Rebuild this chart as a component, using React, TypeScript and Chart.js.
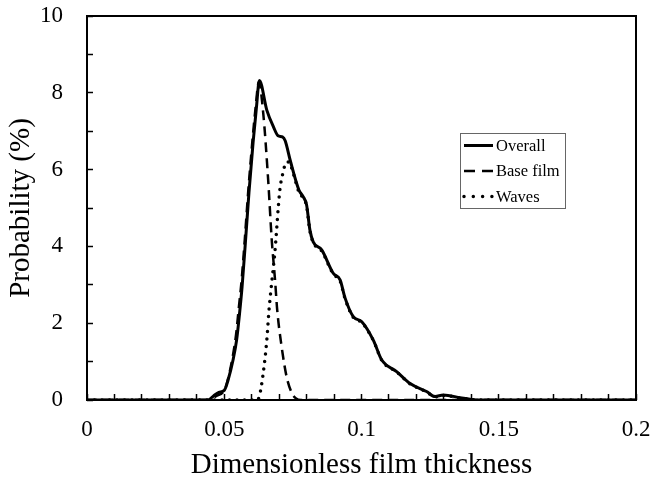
import React, { useEffect, useRef } from 'react';
import { Chart, registerables } from 'chart.js';

Chart.register(...registerables);

// ---- data ----
const seriesNames = ['Overall', 'Base film', 'Waves'];

const overallX = [0, 0.044, 0.046, 0.048, 0.05, 0.0514, 0.0532, 0.0545, 0.0555, 0.0565, 0.0577, 0.059, 0.0605, 0.0617, 0.0628, 0.0655, 0.068, 0.0696, 0.0712, 0.0722, 0.074, 0.0772, 0.0788, 0.08, 0.0812, 0.0824, 0.0855, 0.0897, 0.0922, 0.094, 0.097, 0.1001, 0.1043, 0.1074, 0.1128, 0.1177, 0.1237, 0.1268, 0.1298, 0.136, 0.1395, 0.142, 0.2];
const overallY = [0, 0, 0.1, 0.2, 0.25, 0.52, 1.04, 1.56, 2.2, 2.95, 4.1, 5.4, 6.7, 7.6, 8.32, 7.55, 7.1, 6.88, 6.85, 6.75, 6.25, 5.47, 5.29, 5.08, 4.43, 4.12, 3.91, 3.3, 3.13, 2.66, 2.17, 2.04, 1.56, 1.04, 0.74, 0.43, 0.22, 0.09, 0.13, 0.06, 0.02, 0, 0];

const baseX = [0, 0.044, 0.047, 0.05, 0.0512, 0.053, 0.0543, 0.0553, 0.0563, 0.0575, 0.0587, 0.0602, 0.0614, 0.0626, 0.0642, 0.066, 0.0673, 0.0685, 0.0693, 0.0709, 0.0727, 0.0745, 0.076, 0.078, 0.2];
const baseY = [0, 0, 0.1, 0.25, 0.5, 1.1, 1.7, 2.4, 3.1, 4.2, 5.4, 6.7, 7.6, 8.28, 7.47, 5.73, 4.17, 3.13, 2.34, 1.39, 0.61, 0.2, 0.05, 0, 0];

const wavesX = [0, 0.062, 0.0628, 0.0642, 0.0655, 0.0663, 0.067, 0.0685, 0.0697, 0.0703, 0.0715, 0.0725, 0.0735, 0.0745, 0.0772, 0.0788, 0.08, 0.0812, 0.0824, 0.0855, 0.0897, 0.0922, 0.094, 0.097, 0.1001, 0.1043, 0.1074, 0.1128, 0.1177, 0.1237, 0.1268, 0.1298, 0.136, 0.1395, 0.142, 0.2];
const wavesY = [0, 0, 0.1, 0.7, 1.56, 2.34, 2.86, 3.9, 5.03, 5.5, 5.95, 6.18, 6.2, 6.05, 5.42, 5.25, 5.05, 4.4, 4.1, 3.88, 3.28, 3.1, 2.64, 2.15, 2.02, 1.55, 1.03, 0.73, 0.42, 0.21, 0.08, 0.12, 0.05, 0.02, 0, 0];

const xLabeledTicks = [0, 0.05, 0.1, 0.15, 0.2];
const yLabeledTicks = [0, 2, 4, 6, 8, 10];

const legendDashes = [[], [11, 7], [0, 9.3]];

const FONT = '"Liberation Serif", "Times New Roman", serif';

function pts(xs: number[], ys: number[]) {
  return xs.map((x, i) => ({ x, y: ys[i] }));
}

const framePlugin = {
  id: 'frame',
  afterDatasetsDraw(chart: any) {
    const { ctx, chartArea: a } = chart;
    ctx.save();
    ctx.strokeStyle = '#000';
    ctx.lineWidth = 2;
    ctx.setLineDash([]);
    ctx.strokeRect(a.left, a.top, a.right - a.left, a.bottom - a.top);
    ctx.restore();
  },
};

const legendPlugin = {
  id: 'boxLegend',
  afterDraw(chart: any) {
    const { ctx, chartArea: a } = chart;
    const left = Math.round(a.left + 0.679 * (a.right - a.left));
    const top = Math.round(a.top + 0.305 * (a.bottom - a.top));
    const w = 105;
    const h = 75;
    ctx.save();
    ctx.fillStyle = '#fff';
    ctx.fillRect(left, top, w, h);
    ctx.strokeStyle = '#666';
    ctx.lineWidth = 1;
    ctx.strokeRect(left + 0.5, top + 0.5, w, h);
    chart.data.datasets.forEach((ds: any, i: number) => {
      const y = top + 12.5 + i * 25.5;
      ctx.beginPath();
      ctx.setLineDash(legendDashes[i]);
      ctx.lineCap = ds.borderCapStyle || 'butt';
      ctx.lineWidth = ds.borderWidth;
      ctx.strokeStyle = ds.borderColor;
      ctx.moveTo(left + 4, y);
      ctx.lineTo(left + 33, y);
      ctx.stroke();
      ctx.setLineDash([]);
      ctx.fillStyle = '#000';
      ctx.font = `16.5px ${FONT}`;
      ctx.textBaseline = 'middle';
      ctx.textAlign = 'left';
      ctx.fillText(ds.label, left + 36, y + 1);
    });
    ctx.restore();
  },
};

function zeroPad(s: any) {
  s.paddingTop = 0;
  s.paddingBottom = 0;
  s.paddingLeft = 0;
  s.paddingRight = 0;
}

export default function App() {
  const canvasRef = useRef<HTMLCanvasElement | null>(null);

  useEffect(() => {
    document.body.style.margin = '0';
    const canvas = canvasRef.current;
    if (!canvas) return;
    const chart = new Chart(canvas, {
      type: 'line',
      data: {
        datasets: [
          {
            label: seriesNames[0],
            data: pts(overallX, overallY),
            borderColor: '#000',
            borderWidth: 3,
            borderJoinStyle: 'round',
            pointRadius: 0,
            cubicInterpolationMode: 'monotone',
            fill: false,
          },
          {
            label: seriesNames[1],
            data: pts(baseX, baseY),
            borderColor: '#000',
            borderWidth: 2.5,
            borderDash: [10, 6],
            pointRadius: 0,
            cubicInterpolationMode: 'monotone',
            fill: false,
          },
          {
            label: seriesNames[2],
            data: pts(wavesX, wavesY),
            borderColor: '#000',
            borderWidth: 3.5,
            borderDash: [0, 7.5],
            borderCapStyle: 'round',
            pointRadius: 0,
            cubicInterpolationMode: 'monotone',
            fill: false,
          },
        ],
      } as any,
      options: {
        responsive: false,
        animation: false,
        devicePixelRatio: 1,
        layout: { padding: { left: 0, top: 16, right: 18, bottom: 0 } },
        plugins: {
          legend: { display: false },
          tooltip: { enabled: false },
        },
        scales: {
          x: {
            type: 'linear',
            min: 0,
            max: 0.2,
            afterFit: (s: any) => {
              s.height = 82;
              zeroPad(s);
            },
            border: { display: false },
            grid: {
              drawOnChartArea: false,
              drawTicks: true,
              tickLength: -6,
              tickColor: '#000',
              tickWidth: 1.5,
            },
            ticks: {
              stepSize: 0.01,
              autoSkip: false,
              maxRotation: 0,
              padding: 22,
              color: '#000',
              font: { family: FONT, size: 23 },
              callback: (v: any) => {
                const n = Number(v);
                const hit = xLabeledTicks.find((t) => Math.abs(t - n) < 1e-6);
                return hit === undefined ? '' : String(hit);
              },
            },
            title: {
              display: true,
              text: 'Dimensionless film thickness',
              color: '#000',
              font: { family: FONT, size: 29, lineHeight: 1 },
              padding: { top: 0, bottom: 2 },
            },
          },
          y: {
            type: 'linear',
            min: 0,
            max: 10,
            afterFit: (s: any) => {
              s.width = 87;
              zeroPad(s);
            },
            border: { display: false },
            grid: {
              drawOnChartArea: false,
              drawTicks: true,
              tickLength: -6,
              tickColor: '#000',
              tickWidth: 1.5,
            },
            ticks: {
              stepSize: 1,
              autoSkip: false,
              padding: 30,
              color: '#000',
              font: { family: FONT, size: 23 },
              callback: (v: any) => {
                const n = Number(v);
                const hit = yLabeledTicks.find((t) => Math.abs(t - n) < 1e-6);
                return hit === undefined ? '' : String(hit);
              },
            },
            title: {
              display: true,
              text: 'Probability (%)',
              color: '#000',
              font: { family: FONT, size: 29, lineHeight: 1 },
              padding: { top: 7, bottom: 0 },
            },
          },
        },
      } as any,
      plugins: [framePlugin, legendPlugin],
    });
    return () => chart.destroy();
  }, []);

  return (
    <div style={{ width: 654, height: 482 }}>
      <canvas ref={canvasRef} width={654} height={482} style={{ display: 'block' }} />
    </div>
  );
}
